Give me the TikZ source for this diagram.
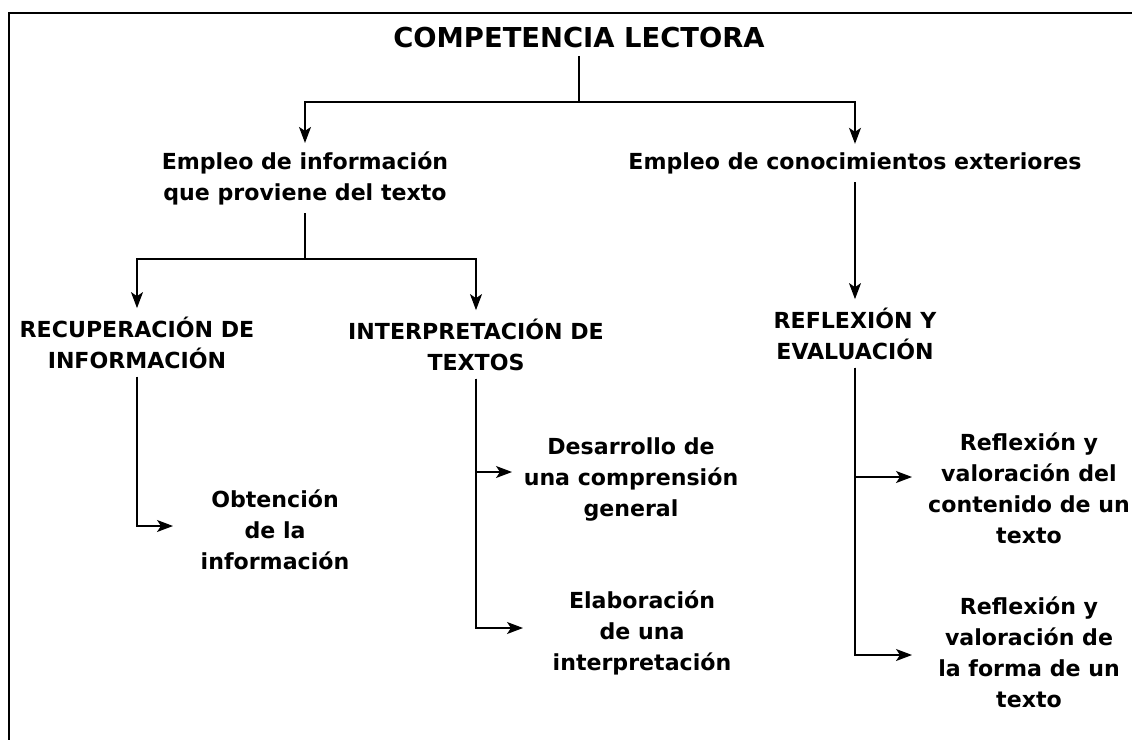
\documentclass[tikz,border=0pt]{standalone}
\usepackage{fontspec}
\setmainfont{DejaVu Sans}
\usetikzlibrary{arrows.meta}

\begin{document}
\begin{tikzpicture}[x=0.5pt,y=-0.5pt,>={Stealth[length=8pt,width=6pt,inset=2pt]},
  txt/.style={font=\bfseries\fontsize{11.05}{15.5}\selectfont,align=center,inner sep=4pt,anchor=base},
  head/.style={txt,font=\bfseries\fontsize{13.7}{16}\selectfont},
  link/.style={line width=0.6pt}]
  \useasboundingbox (0,0) rectangle (1132,740);
  \draw[line width=1pt] (9,740) -- (9,13) -- (1132,13);

  % Define nodes (placed at the baseline of their last line)
  \node[head] (comp) at (579,47) {COMPETENCIA LECTORA};
  \node[txt] (info) at (305,200) {Empleo de información\\que proviene del texto};
  \node[txt] (know) at (855,169) {Empleo de conocimientos exteriores};
  \node[txt] (rec) at (137,368) {RECUPERACIÓN DE\\INFORMACIÓN};
  \node[txt] (inter) at (476,370) {INTERPRETACIÓN DE\\TEXTOS};
  \node[txt] (refl) at (855,359) {REFLEXIÓN Y\\EVALUACIÓN};
  \node[txt] (obt) at (275,569) {Obtención\\de la\\información};
  \node[txt] (des) at (631,516) {Desarrollo de\\una comprensión\\general};
  \node[txt] (ela) at (642,670) {Elaboración\\de una\\interpretación};
  \node[txt] (rv1) at (1029,543) {Reflexión y\\valoración del\\contenido de un\\texto};
  \node[txt] (rv2) at (1029,707) {Reflexión y\\valoración de\\la forma de un\\texto};

  % Define junctions and arrow ends
  \coordinate (j1) at (579,102);
  \coordinate (j2) at (305,259);
  \coordinate (obt-in) at (173,526);
  \coordinate (des-in) at (512,472);
  \coordinate (ela-in) at (523,628);
  \coordinate (rv1-in) at (912,477);
  \coordinate (rv2-in) at (912,655);

  % Define connectors
  \draw[link] (comp) -- (j1);
  \draw[link,->] (j1) -| (info);
  \draw[link,->] (j1) -| (know);
  \draw[link] (info) -- (j2);
  \draw[link,->] (j2) -| (rec);
  \draw[link,->] (j2) -| (inter);
  \draw[link,->] (know) -- (refl);
  \draw[link,->] (rec) |- (obt-in);
  \draw[link,->] (inter) |- (des-in);
  \draw[link,->] (inter) |- (ela-in);
  \draw[link,->] (refl) |- (rv1-in);
  \draw[link,->] (refl) |- (rv2-in);
\end{tikzpicture}
\end{document}
